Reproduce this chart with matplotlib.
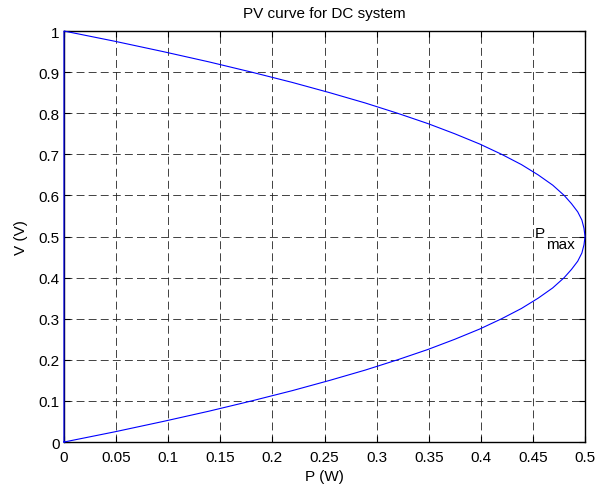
import matplotlib
matplotlib.use('Agg')
import matplotlib.pyplot as plt

plt.rcParams['font.family'] = ['Liberation Sans', 'DejaVu Sans']

# points (voltage, power), traced from V=0 up to V=1 and back down the P=0 axis
volt = [0, 0.025, 0.05, 0.075, 0.1, 0.125, 0.15, 0.175, 0.2, 0.225, 0.25, 0.275,
        0.3, 0.325, 0.35, 0.375, 0.4, 0.42, 0.44, 0.46, 0.48, 0.5,
        0.52, 0.54, 0.56, 0.58, 0.6, 0.625, 0.65, 0.675, 0.7, 0.725, 0.75,
        0.775, 0.8, 0.825, 0.85, 0.875, 0.9, 0.925, 0.95, 0.975, 1.0, 0]
power = [0, 0.049, 0.095, 0.139, 0.18, 0.219, 0.255, 0.289, 0.32, 0.349, 0.375, 0.399,
         0.42, 0.439, 0.455, 0.469, 0.48, 0.487, 0.493, 0.497, 0.499, 0.5,
         0.499, 0.497, 0.493, 0.487, 0.48, 0.469, 0.455, 0.439, 0.42, 0.399, 0.375,
         0.349, 0.32, 0.289, 0.255, 0.219, 0.18, 0.139, 0.095, 0.049, 0, 0]

xticks = [0, 0.05, 0.1, 0.15, 0.2, 0.25, 0.3, 0.35, 0.4, 0.45, 0.5]
yticks = [0, 0.1, 0.2, 0.3, 0.4, 0.5, 0.6, 0.7, 0.8, 0.9, 1]

fs = 11
fig = plt.figure(figsize=(6.07, 4.89), dpi=100)
ax = fig.add_axes([0.1054, 0.094, 0.8584, 0.8405])
ax.plot(power, volt, color='#0000ff', lw=0.8, clip_on=False, zorder=3)

ax.set_xlim(0, 0.5)
ax.set_ylim(0, 1)
ax.set_xticks(xticks)
ax.set_yticks(yticks)
ax.set_xticklabels([f'{t:g}' for t in xticks])
ax.set_yticklabels([f'{t:g}' for t in yticks])
ax.tick_params(direction='in', labelsize=fs, length=4, top=True, right=True)
ax.tick_params(axis='x', pad=6)
ax.tick_params(axis='y', pad=3)
ax.grid(True, color='#222222', linestyle=(0, (9.5, 5)), linewidth=0.6)
for s in ax.spines.values():
    s.set_linewidth(1)

# P_max label
ax.text(0.452, 0.5, 'P', fontsize=fs, va='baseline', ha='left')
ax.text(0.4625, 0.5, 'max', fontsize=fs, va='top', ha='left')

ax.set_title('PV curve for DC system', fontsize=fs, pad=10)
ax.set_xlabel('P (W)', fontsize=fs, labelpad=3)
ax.set_ylabel('V (V)', fontsize=fs, labelpad=8)

fig.savefig('out.png', dpi=100)
